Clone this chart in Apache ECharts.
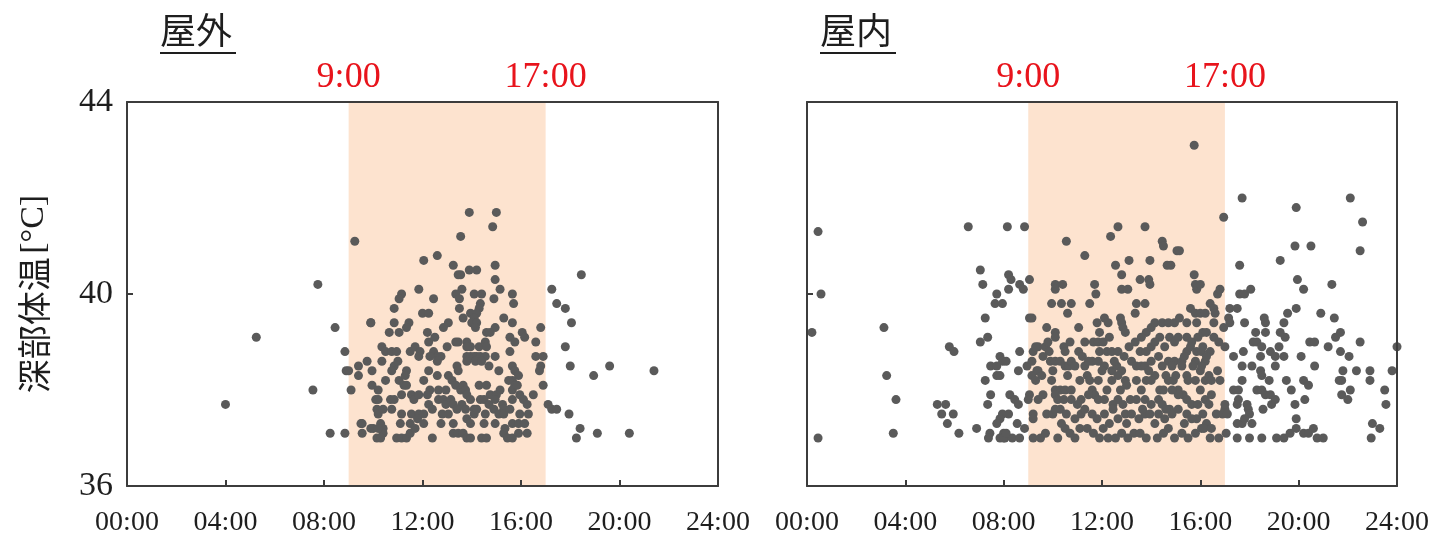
<!DOCTYPE html>
<html>
<head>
<meta charset="utf-8">
<script src="https://cdn.jsdelivr.net/npm/echarts@6/dist/echarts.min.js"></script>
<style>
html,body{margin:0;padding:0;background:#fff;}
#chart{width:1432px;height:537px;}
</style>
</head>
<body>
<div id="chart"></div>
<script>
// ---- data ----
const panelTitles = ['屋外', '屋内'];
const yAxisName = '深部体温';
const yAxisUnit = '[°C]';
const xTickLabels = ['00:00', '04:00', '08:00', '12:00', '16:00', '20:00', '24:00'];
const yTicks = [36, 40, 44];
const workBand = [9, 17];
const workBandLabels = ['9:00', '17:00'];

// [hour of day, deep body temperature °C]
const outdoorPoints = [
  [4.0,37.7],[5.25,39.1],[7.75,40.2],[7.55,38.0],[8.45,39.3],[8.25,37.1],[8.9,38.4],[9.1,38.0],
  [13.9,41.7],[15.0,41.7],[14.85,41.4],[13.55,41.2],[9.25,41.1],[12.6,40.8],[12.05,40.7],[13.25,40.6],
  [13.9,40.5],[14.2,40.5],[14.95,40.6],[13.45,40.4],[13.55,40.4],[14.95,40.3],[18.45,40.4],[11.85,40.1],
  [17.25,40.1],[13.6,40.1],[11.15,40.0],[11.05,39.9],[12.45,39.9],[13.35,40.0],[13.5,39.9],[14.1,40.0],
  [14.4,40.0],[15.15,40.1],[14.9,39.9],[15.65,40.0],[15.7,39.8],[17.45,39.8],[17.8,39.7],[10.85,39.7],
  [13.5,39.7],[14.35,39.8],[14.3,39.7],[12.0,39.6],[12.25,39.6],[13.95,39.6],[14.2,39.6],[13.05,39.4],
  [13.65,39.5],[14.1,39.5],[14.0,39.4],[14.2,39.4],[14.15,39.3],[15.3,39.5],[15.65,39.4],[18.05,39.4],
  [9.9,39.4],[10.85,39.4],[11.45,39.4],[11.35,39.3],[10.65,39.2],[11.05,39.2],[12.2,39.2],[12.25,39.0],
  [12.85,39.3],[14.6,39.2],[14.95,39.3],[14.75,39.2],[16.8,39.3],[13.35,39.0],[13.45,39.0],[13.8,39.0],
  [13.95,38.9],[13.8,38.9],[14.3,38.9],[14.55,39.0],[14.6,38.9],[15.55,39.1],[15.75,39.0],[16.05,39.2],
  [16.15,39.1],[16.6,39.0],[17.8,38.9],[8.85,38.8],[10.35,38.9],[10.5,38.8],[10.75,38.8],[10.95,38.8],
  [11.5,38.8],[11.7,38.9],[11.9,38.8],[11.85,38.7],[12.45,38.8],[12.6,38.7],[12.75,38.7],[12.3,38.7],
  [12.6,38.6],[13.8,38.7],[13.95,38.7],[14.1,38.7],[14.2,38.7],[14.35,38.7],[14.55,38.7],[14.95,38.7],
  [15.55,38.8],[16.6,38.7],[16.9,38.7],[13.8,38.6],[14.15,38.6],[14.4,38.6],[14.7,38.5],[9.0,38.4],
  [9.4,38.5],[9.75,38.6],[9.95,38.4],[10.35,38.6],[10.85,38.5],[10.75,38.4],[11.35,38.4],[12.25,38.4],
  [12.6,38.3],[13.05,38.3],[13.4,38.5],[13.45,38.4],[15.1,38.4],[15.65,38.5],[15.75,38.4],[15.9,38.3],
  [15.65,38.2],[15.5,38.2],[15.75,38.1],[16.8,38.5],[16.75,38.4],[18.0,38.5],[18.95,38.3],[19.6,38.5],
  [21.4,38.4],[9.95,38.1],[10.2,38.0],[10.5,38.2],[11.05,38.2],[11.3,38.3],[11.25,38.1],[11.35,38.1],
  [12.05,38.2],[12.3,38.0],[12.65,38.0],[12.95,38.0],[13.2,38.2],[13.35,38.1],[13.55,38.0],[13.65,38.1],
  [13.75,38.0],[13.8,37.9],[14.3,38.1],[14.6,38.1],[14.75,37.9],[15.0,37.9],[15.15,38.0],[15.65,38.0],
  [15.85,38.1],[15.95,37.9],[16.9,38.1],[10.1,37.8],[10.2,37.8],[10.7,37.8],[10.85,37.8],[11.15,37.9],
  [11.55,37.9],[11.65,37.8],[11.85,37.9],[12.2,37.9],[12.25,37.7],[12.65,37.8],[12.85,37.8],[12.95,37.7],
  [13.15,37.8],[13.25,37.7],[13.6,37.7],[13.95,37.8],[14.1,37.6],[14.35,37.8],[14.5,37.8],[14.7,37.7],
  [14.95,37.8],[15.25,37.7],[15.3,37.6],[15.65,37.8],[16.1,37.8],[16.25,37.7],[16.5,37.9],[17.1,37.7],
  [17.25,37.6],[17.45,37.6],[10.15,37.6],[10.2,37.5],[10.4,37.6],[10.75,37.6],[11.15,37.5],[11.55,37.5],
  [11.85,37.5],[12.05,37.5],[12.4,37.6],[12.8,37.5],[13.05,37.5],[13.4,37.6],[13.75,37.6],[14.1,37.5],
  [14.2,37.6],[14.55,37.5],[14.9,37.6],[15.1,37.5],[15.3,37.5],[15.55,37.6],[15.95,37.5],[16.3,37.5],
  [17.95,37.5],[9.5,37.3],[10.0,37.2],[10.3,37.3],[10.4,37.2],[11.1,37.3],[11.5,37.3],[11.8,37.4],
  [12.05,37.3],[12.75,37.3],[13.25,37.3],[13.8,37.4],[13.95,37.3],[14.5,37.3],[14.95,37.3],[15.35,37.2],
  [15.65,37.3],[15.9,37.3],[16.15,37.3],[18.4,37.2],[8.85,37.1],[9.55,37.1],[9.9,37.2],[10.15,37.0],
  [10.4,37.1],[10.95,37.0],[11.15,37.0],[11.35,37.0],[11.5,37.1],[11.7,37.2],[12.4,37.0],[13.25,37.1],
  [13.45,37.1],[13.65,37.1],[13.8,37.0],[13.95,37.0],[14.4,37.0],[14.6,37.0],[15.3,37.1],[15.45,37.0],
  [15.65,37.0],[15.9,37.1],[16.25,37.1],[10.3,37.0],[18.25,37.0],[19.1,37.1],[20.4,37.1],[9.4,38.3],
  [9.55,37.3],[9.9,39.4],[10.2,37.2],[12.5,39.1],[11.0,38.6],[13.0,38.9]
];

const indoorPoints = [
  [0.45,41.3],[0.57,40.0],[0.2,39.2],[0.45,37.0],[3.13,39.3],[3.24,38.3],[3.62,37.8],[3.51,37.1],
  [5.3,37.7],[5.64,37.7],[5.48,37.5],[5.95,37.5],[5.71,37.3],[6.18,37.1],[5.79,38.9],[5.98,38.8],
  [6.56,41.4],[6.9,37.2],[7.05,40.5],[7.15,40.2],[7.25,39.5],[7.05,39.0],[7.35,39.1],[7.72,40.0],
  [7.65,39.8],[7.95,39.8],[7.85,38.7],[7.96,38.6],[7.47,38.5],[7.72,38.5],[7.72,38.3],[7.85,38.3],
  [7.25,38.2],[7.47,37.9],[7.35,37.7],[7.95,37.5],[7.85,37.4],[7.72,37.3],[7.44,37.1],[7.38,37.0],
  [7.85,37.0],[8.0,37.1],[8.15,41.4],[8.85,41.4],[8.2,40.4],[8.3,40.3],[8.2,40.1],[8.65,40.2],
  [8.8,40.1],[9.05,40.3],[9.05,39.5],[8.6,38.4],[8.95,38.5],[9.35,38.4],[9.05,37.9],[9.2,37.5],
  [9.75,37.5],[10.0,37.5],[10.3,37.6],
  [15.75,43.1],[12.65,41.4],[13.75,41.4],[12.35,41.2],[10.55,41.1],[14.45,41.1],[14.5,41.0],[15.05,40.9],
  [15.15,40.9],[11.3,40.8],[12.55,40.6],[13.1,40.7],[13.95,40.7],[14.65,40.6],[14.8,40.6],[15.75,40.4],
  [15.8,40.2],[15.85,40.1],[12.8,40.4],[13.55,40.3],[13.9,40.3],[13.95,40.2],[12.8,40.1],[13.05,40.1],
  [10.1,40.2],[10.1,40.1],[10.4,40.2],[11.7,40.2],[11.75,40.0],[9.95,39.8],[10.35,39.8],[10.75,39.8],
  [11.5,39.8],[13.4,39.8],[13.75,39.8],[13.35,39.6],[15.6,39.7],[15.8,39.6],[16.0,39.6],[16.2,39.6],
  [9.15,39.5],[9.75,39.3],[10.1,39.2],[11.05,39.3],[11.8,39.4],[12.1,39.5],[12.25,39.4],[12.75,39.5],
  [12.8,39.4],[12.85,39.3],[12.95,39.2],[13.8,39.2],[14.0,39.3],[14.15,39.4],[14.45,39.4],[14.7,39.4],
  [14.95,39.4],[15.15,39.5],[15.45,39.4],[15.85,39.4],[14.35,39.1],[14.75,39.1],[14.95,39.0],[15.1,39.1],
  [15.45,39.1],[15.65,39.0],[15.9,39.1],[16.1,39.2],[8.65,38.8],[9.2,38.8],[9.4,38.9],[9.7,38.9],
  [9.8,39.0],[10.1,39.1],[9.85,38.8],[10.45,38.9],[10.7,39.0],[10.5,38.8],[11.05,38.8],[11.3,39.0],
  [11.65,39.0],[11.85,39.0],[12.05,39.0],[11.9,38.8],[12.2,38.8],[12.4,38.8],[12.65,38.8],[13.55,38.8],
  [13.8,38.8],[14.0,38.9],[14.15,39.0],[14.55,38.9],[14.7,38.6],[14.95,38.6],[15.25,38.6],[15.45,38.8],
  [15.6,38.9],[15.85,38.8],[16.05,38.8],[8.1,38.6],[9.15,38.6],[9.4,38.4],[9.55,38.3],[9.9,38.6],
  [10.1,38.6],[10.3,38.6],[10.5,38.5],[10.65,38.5],[10.75,38.6],[11.3,38.5],[11.6,38.6],[11.85,38.6],
  [12.1,38.5],[12.4,38.4],[12.6,38.5],[12.8,38.4],[13.2,38.6],[13.4,38.5],[13.6,38.5],[13.75,38.5],
  [14.0,38.6],[14.15,38.3],[14.45,38.5],[14.85,38.5],[15.25,38.5],[15.45,38.3],[15.8,38.6],[16.0,38.4],
  [16.2,38.6],[9.15,38.3],[9.3,38.2],[9.95,38.2],[10.1,38.0],[10.3,38.0],[10.5,38.0],[10.75,38.0],
  [11.1,38.2],[11.4,38.3],[11.5,38.2],[11.6,38.0],[11.7,37.9],[11.85,38.2],[12.2,38.0],[12.4,38.2],
  [12.65,38.3],[12.75,38.0],[12.95,38.2],[13.4,38.2],[13.6,38.0],[13.8,38.2],[14.0,38.2],[14.35,38.0],
  [14.7,38.2],[14.9,38.2],[15.1,38.0],[15.3,37.9],[15.5,38.2],[15.8,38.2],[16.0,38.0],[16.2,38.2],
  [8.25,37.9],[8.45,37.8],[8.6,37.7],[9.0,37.8],[9.4,37.8],[10.1,37.9],[10.2,37.8],[10.45,37.8],
  [10.75,37.8],[11.15,37.8],[11.45,37.9],[11.85,37.8],[12.1,37.8],[12.45,37.7],[12.65,37.8],[12.85,37.7],
  [13.15,37.8],[13.4,37.8],[13.75,37.8],[14.0,37.7],[14.3,37.8],[14.45,37.7],[14.75,37.6],[15.1,37.9],
  [15.45,37.8],[15.65,37.7],[15.9,37.7],[16.2,37.8],[8.2,37.5],[8.55,37.3],[9.2,37.4],[10.1,37.6],
  [10.55,37.5],[10.9,37.4],[11.15,37.5],[11.6,37.5],[11.8,37.4],[12.1,37.5],[12.45,37.6],[12.65,37.4],
  [12.95,37.5],[13.2,37.5],[13.5,37.4],[13.75,37.5],[13.95,37.5],[14.3,37.5],[14.55,37.4],[14.85,37.5],
  [15.1,37.6],[15.45,37.5],[15.85,37.4],[16.1,37.5],[8.05,37.0],[8.35,37.0],[8.65,37.0],[8.85,37.2],
  [9.2,37.0],[9.5,37.0],[9.7,37.1],[10.2,37.0],[10.5,37.2],[10.7,37.1],[10.9,37.0],[11.1,37.2],
  [11.4,37.2],[11.65,37.1],[11.9,37.0],[12.05,37.2],[12.25,37.0],[12.55,37.0],[12.8,37.1],[13.05,37.0],
  [13.3,37.1],[13.55,37.1],[13.8,37.0],[14.25,37.0],[14.5,37.1],[14.7,37.2],[14.95,37.0],[15.25,37.1],
  [15.5,37.0],[15.8,37.1],[16.05,37.2],
  [9.3,38.9],[9.6,38.7],[10.0,38.4],[10.6,38.3],[10.9,38.5],[11.2,38.7],[11.45,38.6],[12.3,39.1],
  [12.5,38.6],[12.9,38.7],[13.1,38.9],[13.35,39.0],[13.6,39.1],[14.3,38.7],[14.6,38.3],[14.85,38.0],
  [15.0,38.3],[15.35,38.7],[15.7,38.5],[16.1,38.9],[9.6,37.9],[10.35,37.3],[11.0,37.7],[11.3,37.6],
  [12.3,37.3],[13.0,37.3],[13.65,37.6],[14.15,37.3],[14.6,37.6],[15.35,37.3],[15.65,37.4],[12.0,38.4],
  [13.0,38.1],[13.9,38.4],[14.5,38.0],[11.9,39.2],[10.6,39.6],
  [17.7,42.0],[22.1,42.0],[19.9,41.8],[22.6,41.5],[16.95,41.6],[19.85,41.0],[20.5,41.0],[22.5,40.9],
  [17.6,40.6],[19.25,40.7],[19.95,40.3],[20.2,40.1],[21.35,40.2],[17.6,40.0],[17.8,40.0],[18.05,40.1],
  [16.7,40.0],[16.8,40.1],[19.9,39.7],[19.55,39.6],[20.9,39.6],[21.45,39.5],[17.2,39.7],[17.5,39.7],
  [17.8,39.4],[18.6,39.5],[18.65,39.4],[19.4,39.4],[19.25,39.2],[19.45,39.1],[18.25,39.2],[18.65,39.2],
  [20.45,39.0],[20.65,39.0],[21.2,38.9],[21.5,39.1],[21.7,39.2],[22.5,39.0],[24.0,38.9],[18.15,39.0],
  [18.3,39.0],[18.5,38.9],[17.75,38.8],[17.35,38.7],[18.85,38.8],[19.05,38.7],[19.2,38.9],[19.4,38.7],
  [18.45,38.7],[20.1,38.7],[21.7,38.8],[22.05,38.7],[17.7,38.5],[18.1,38.5],[19.05,38.5],[20.65,38.5],
  [18.45,38.4],[18.5,38.3],[21.8,38.4],[22.35,38.4],[22.9,38.4],[23.8,38.4],[17.7,38.2],[18.8,38.2],
  [19.5,38.2],[20.2,38.2],[20.4,38.1],[21.65,38.2],[21.75,38.2],[22.9,38.2],[17.35,38.0],[17.55,38.0],
  [18.3,38.0],[18.5,38.0],[18.65,37.9],[18.85,37.9],[19.7,38.0],[23.5,38.0],[21.75,37.9],[22.1,38.0],
  [22.0,37.8],[23.55,37.7],[17.55,37.8],[17.5,37.7],[17.9,37.7],[17.95,37.6],[18.0,37.5],[18.55,37.6],
  [18.9,37.7],[19.05,37.8],[19.85,37.7],[20.25,37.8],[17.0,37.6],[16.9,37.5],[17.1,37.5],[16.65,37.5],
  [17.7,37.3],[18.1,37.3],[17.8,37.4],[17.5,37.3],[19.9,37.4],[23.0,37.3],[23.3,37.2],[16.4,37.0],
  [16.75,37.0],[17.05,37.1],[17.5,37.0],[18.0,37.0],[18.5,37.0],[19.1,37.0],[19.4,37.0],[19.65,37.1],
  [19.9,37.2],[20.2,37.1],[20.4,37.1],[20.6,37.2],[20.75,37.0],[21.0,37.0],[22.95,37.0],
  [16.0,40.2],[16.4,39.8],[16.55,39.7],[16.6,39.6],[16.55,39.4],[17.15,39.5],[17.2,39.4],[16.95,39.3],
  [16.25,39.2],[16.55,39.1],[16.75,39.0],[17.0,38.9],[16.4,38.8],[16.25,38.7],[16.05,38.5],[16.7,38.4],
  [16.35,38.3],[16.45,38.2],[16.8,38.2],[16.45,37.9],[16.35,37.7],[17.0,37.7],[16.25,37.3],[16.15,37.2],
  [16.45,37.2],[7.99,37.0],[8.1,37.1]
];

// ---- chart ----
const chart = echarts.init(document.getElementById('chart'), null, {renderer: 'canvas'});
const serif = '"Liberation Serif", "Times New Roman", serif';
const cjk = '"Noto Sans CJK JP", "Noto Sans", sans-serif';
const ink = '#1e1e1e';
const boxColor = '#3c3c3c';
const grids = [
  {left: 127, top: 102, width: 591, height: 385},
  {left: 807, top: 102, width: 590, height: 385}
];

const xAxes = [], yAxes = [], series = [];
grids.forEach((g, i) => {
  // bottom time axis
  xAxes.push({
    gridIndex: i, type: 'value', position: 'bottom', min: 0, max: 24, interval: 4, z: 5,
    axisLine: {show: true, onZero: false, lineStyle: {color: boxColor, width: 2}},
    axisTick: {show: true, inside: true, length: 6, lineStyle: {color: boxColor, width: 2}},
    splitLine: {show: false},
    axisLabel: {
      show: true, margin: 23, fontSize: 28, fontFamily: serif, color: ink,
      showMinLabel: true, showMaxLabel: true,
      formatter: v => xTickLabels[Math.round(v / 4)]
    }
  });
  // top axis: box top + red band-edge labels
  xAxes.push({
    gridIndex: i, type: 'value', position: 'top', min: 0, max: 24, interval: 1, z: 5,
    axisLine: {show: true, onZero: false, lineStyle: {color: boxColor, width: 2}},
    axisTick: {show: false}, splitLine: {show: false},
    axisLabel: {
      show: true, interval: 0, margin: 6, fontSize: 36, fontFamily: serif, color: '#e8141c',
      formatter: v => { const k = workBand.indexOf(v); return k >= 0 ? workBandLabels[k] : ''; }
    }
  });
  yAxes.push({
    gridIndex: i, type: 'value', position: 'left', min: yTicks[0], max: yTicks[yTicks.length - 1],
    interval: yTicks[1] - yTicks[0], z: 5,
    axisLine: {show: true, onZero: false, lineStyle: {color: boxColor, width: 2}},
    axisTick: {show: true, inside: true, length: 6, lineStyle: {color: boxColor, width: 2}},
    splitLine: {show: false},
    axisLabel: {show: i === 0, margin: 14, fontSize: 34, fontFamily: serif, color: ink},
    name: i === 0 ? '{a|' + yAxisName + '} {b|' + yAxisUnit + '}' : '',
    nameLocation: 'middle', nameRotate: 90, nameGap: 76,
    nameTextStyle: {
      rich: {
        a: {fontSize: 34, fontFamily: cjk, color: ink},
        b: {fontSize: 34, fontFamily: serif, color: ink}
      }
    }
  });
  yAxes.push({
    gridIndex: i, type: 'value', position: 'right', min: yTicks[0], max: yTicks[yTicks.length - 1],
    interval: yTicks[1] - yTicks[0], z: 5,
    axisLine: {show: true, onZero: false, lineStyle: {color: boxColor, width: 2}},
    axisTick: {show: false}, axisLabel: {show: false}, splitLine: {show: false}
  });
  // band
  series.push({
    type: 'scatter', xAxisIndex: i * 2, yAxisIndex: i * 2, data: [], z: 1, silent: true,
    markArea: {
      silent: true,
      itemStyle: {color: '#fde3cf'},
      data: [[{xAxis: workBand[0]}, {xAxis: workBand[1]}]]
    }
  });
  series.push({
    type: 'scatter', xAxisIndex: i * 2, yAxisIndex: i * 2, z: 3,
    data: i === 0 ? outdoorPoints : indoorPoints,
    symbolSize: 9,
    itemStyle: {color: '#5a5a5a', opacity: 1},
    clip: false
  });
});

const titleX = [160, 820];
const graphics = [];
panelTitles.forEach((t, i) => {
  graphics.push({
    type: 'text', left: titleX[i], top: 12,
    style: {text: t, font: '36px ' + cjk, fill: ink}
  });
  graphics.push({
    type: 'line', shape: {x1: titleX[i], y1: 53, x2: titleX[i] + 76, y2: 53},
    style: {stroke: ink, lineWidth: 2}
  });
});

chart.setOption({
  animation: false,
  backgroundColor: '#ffffff',
  grid: grids.map(g => Object.assign({containLabel: false}, g)),
  xAxis: xAxes,
  yAxis: yAxes,
  series: series,
  graphic: graphics
});
</script>
</body>
</html>
